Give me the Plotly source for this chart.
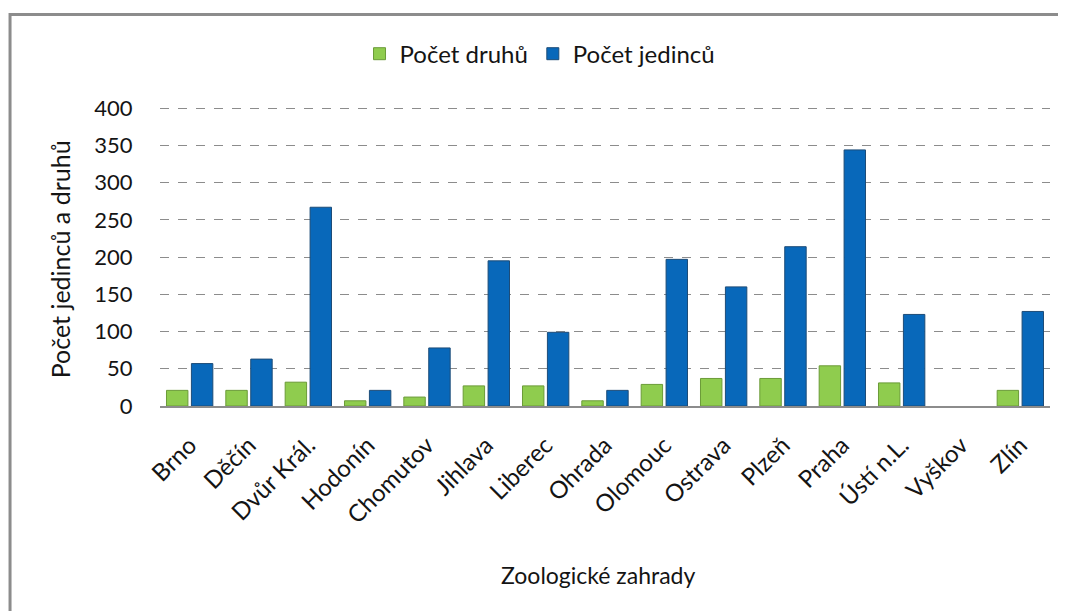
import plotly.graph_objects as go

categories = ["Brno", "Děčín", "Dvůr Král.", "Hodonín", "Chomutov", "Jihlava", "Liberec",
              "Ohrada", "Olomouc", "Ostrava", "Plzeň", "Praha", "Ústí n.L.", "Vyškov", "Zlín"]
pocet_druhu = [21, 21, 32, 7, 12, 27, 27, 7, 29, 37, 37, 54, 31, 0, 21]
pocet_jedincu = [57, 63, 267, 21, 78, 195, 99, 21, 197, 160, 214, 344, 123, 0, 127]
y_ticks = [0, 50, 100, 150, 200, 250, 300, 350, 400]

FONT = "Lato"
TXT = "#141414"

fig = go.Figure()
fig.add_trace(go.Bar(
    name="Počet druhů", x=categories, y=pocet_druhu,
    marker=dict(color="#8FCC4E",
                line=dict(color="#6B9B38", width=[1 if v > 0 else 0 for v in pocet_druhu])),
))
fig.add_trace(go.Bar(
    name="Počet jedinců", x=categories, y=pocet_jedincu,
    marker=dict(color="#0868BA",
                line=dict(color="#1D4C78", width=[1 if v > 0 else 0 for v in pocet_jedincu])),
))

# page body has an 8px margin, so the figure is 8px smaller on each axis
fig.update_layout(
    width=1058, height=603,
    margin=dict(l=152, r=16, t=98, b=205, autoexpand=False),
    paper_bgcolor="white", plot_bgcolor="white",
    barmode="group", bargap=0.16, bargroupgap=0.14,
    font=dict(family=FONT, size=22, color=TXT),
    showlegend=True,
    legend=dict(orientation="h", x=0.427, xanchor="center", y=1.173, yanchor="middle",
                font=dict(family=FONT, size=24, color=TXT), itemwidth=30,
                bgcolor="rgba(0,0,0,0)"),
    xaxis=dict(
        showgrid=False, showline=True, linecolor="#8c8c8c", linewidth=1.5,
        tickangle=-45, ticks="outside", ticklen=14, tickcolor="rgba(0,0,0,0)",
        tickfont=dict(family=FONT, size=24, color=TXT), automargin=False,
    ),
    yaxis=dict(
        range=[0, 403], tickvals=y_ticks, showline=False,
        showgrid=True, gridcolor="#8c8c8c", griddash="dash", gridwidth=1,
        zeroline=False,
        ticks="outside", ticklen=22, tickcolor="rgba(0,0,0,0)",
        tickfont=dict(family=FONT, size=22, color=TXT), automargin=False,
    ),
    annotations=[
        dict(text="Zoologické zahrady", xref="paper", yref="paper",
             x=0.492, y=-0.563, showarrow=False, xanchor="center", yanchor="middle",
             font=dict(family=FONT, size=23, color=TXT)),
        dict(text="Počet jedinců a druhů", xref="paper", yref="paper",
             x=-0.112, y=0.49, showarrow=False, xanchor="center", yanchor="middle",
             textangle=-90, font=dict(family=FONT, size=25, color=TXT)),
    ],
    shapes=[
        dict(type="rect", xref="paper", yref="paper",
             x0=-0.1685, x1=1.03, y0=-0.75, y1=1.3050,
             line=dict(color="#8c8c8c", width=3), fillcolor="rgba(0,0,0,0)", layer="below"),
    ],
)

fig.write_html("out.html")
